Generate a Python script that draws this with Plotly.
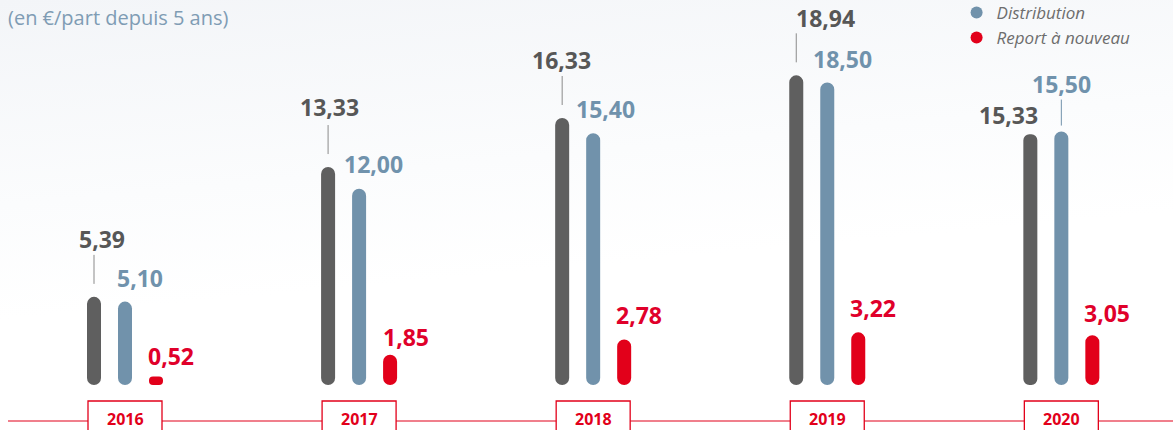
import base64
import plotly.graph_objects as go

# ---------------- data ----------------
years = ["2016", "2017", "2018", "2019", "2020"]
resultat = [5.39, 13.33, 16.33, 18.94, 15.33]
distribution = [5.10, 12.00, 15.40, 18.50, 15.50]
report = [0.52, 1.85, 2.78, 3.22, 3.05]
series_names = ["Résultat", "Distribution", "Report à nouveau"]
subtitle = "(en €/part depuis 5 ans)"

# ---------------- style ----------------
W, H = 1173, 430
GREY, BLUE, RED = "#5f5f5f", "#7192ab", "#e2001a"
GREY_T, BLUE_T, RED_T = "#575757", "#7092ac", "#e0002a"
FONT = "Open Sans"
X_RANGE = [-0.534, 4.477]
Y_RANGE = [-2.752, 23.547]
ppx = W / (X_RANGE[1] - X_RANGE[0])     # px per x unit
BAR_PX = 14
GAP_PX = 31
width_u = BAR_PX / ppx

# label placement (pixel offsets from bar top): (dx, dy_up, leader)
label_style = {
    0: [(8, 58, True), (1, 60, True), (-1, 58, True), (29, 57, True), (-22, 19, False)],
    1: [(15, 24, False), (14, 25, False), (12, 24, False), (15, 24, False), (0, 48, True)],
    2: [(15, 21, False), (16, 18, False), (15, 25, False), (15, 24, False), (15, 22, False)],
}

series = [resultat, distribution, report]
colors = [GREY, BLUE, RED]
tcolors = [GREY_T, BLUE_T, RED_T]
offs = [-GAP_PX / ppx, 0, GAP_PX / ppx]

fig = go.Figure()
xs = list(range(len(years)))
annotations = []
shapes = []

for k, (vals, col, off) in enumerate(zip(series, colors, offs)):
    xc = [i + off for i in xs]
    fig.add_trace(go.Bar(
        x=xc, y=vals, base=[0] * len(vals),
        width=width_u, marker=dict(color=col, cornerradius=BAR_PX / 2, line_width=0),
        showlegend=False, hoverinfo="skip"))
    if k > 0:
        fig.add_trace(go.Scatter(
            x=[None], y=[None], mode="markers",
            marker=dict(color=col, size=9, line_width=0),
            name=series_names[k], showlegend=True, hoverinfo="skip"))
    for i, v in enumerate(vals):
        dx, dy, lead = label_style[k][i]
        annotations.append(dict(
            x=xc[i], y=v, xref="x", yref="y", text=f"{v:.2f}".replace(".", ","),
            showarrow=False, xshift=dx, yshift=dy, xanchor="center", yanchor="middle",
            font=dict(family=FONT, size=23, color=tcolors[k], weight="bold")))
        if lead:
            lo, hi = (13, 42) if k == 0 else (6, 32)
            shapes.append(dict(
                type="line", xref="x", yref="y", xsizemode="pixel", ysizemode="pixel",
                xanchor=xc[i], yanchor=v, x0=0, x1=0, y0=lo, y1=hi,
                line=dict(color="#8a8a8a" if k == 0 else BLUE, width=1)))

# timeline line
line_y = 1 - 421 / H
shapes.insert(0, dict(type="line", xref="paper", yref="paper", x0=8 / W, x1=1,
                      y0=line_y, y1=line_y, line=dict(color=RED, width=1.2), layer="above"))
for i, yr in enumerate(years):
    shapes.append(dict(type="rect", xref="x", yref="paper", xsizemode="pixel", xanchor=i,
                       x0=-37, x1=37, y0=-0.2, y1=1 - 401 / H,
                       fillcolor="white", line=dict(color=RED, width=1.3), layer="above"))
    annotations.append(dict(x=i, y=1 - 419 / H, xref="x", yref="paper", text=yr, showarrow=False,
                            xanchor="center", yanchor="middle",
                            font=dict(family=FONT, size=16, color=RED, weight="bold")))

annotations.append(dict(x=6 / W, y=1 - 18 / H, xref="paper", yref="paper", text=subtitle,
                        showarrow=False, xanchor="left", yanchor="middle",
                        font=dict(family=FONT, size=20, color="#7f9cb4")))

svg = f'''<svg xmlns="http://www.w3.org/2000/svg" width="{W}" height="{H}">
<defs><linearGradient id="g" x1="0" y1="0" x2="0.25" y2="1">
<stop offset="0" stop-color="#f3f5f8"/><stop offset="0.45" stop-color="#fbfcfd"/>
<stop offset="0.7" stop-color="#ffffff"/></linearGradient></defs>
<rect width="{W}" height="{H}" fill="url(#g)"/></svg>'''
src = "data:image/svg+xml;base64," + base64.b64encode(svg.encode()).decode()

fig.update_layout(
    width=W, height=H, margin=dict(l=0, r=0, t=0, b=0, autoexpand=False),
    paper_bgcolor="white", plot_bgcolor="rgba(0,0,0,0)",
    barmode="overlay",
    xaxis=dict(range=X_RANGE, visible=False, fixedrange=True),
    yaxis=dict(range=Y_RANGE, visible=False, fixedrange=True),
    images=[dict(source=src, xref="paper", yref="paper", x=0, y=1, sizex=1, sizey=1,
                 sizing="stretch", layer="below", xanchor="left", yanchor="top")],
    annotations=annotations, shapes=shapes,
    legend=dict(x=0.8155, y=1.012, xanchor="left", yanchor="top", itemsizing="constant",
                bgcolor="rgba(0,0,0,0)", tracegroupgap=0, itemwidth=30,
                font=dict(family=FONT, size=17, color="#6d6d6d", style="italic")),
)
fig.write_html("out.html")
